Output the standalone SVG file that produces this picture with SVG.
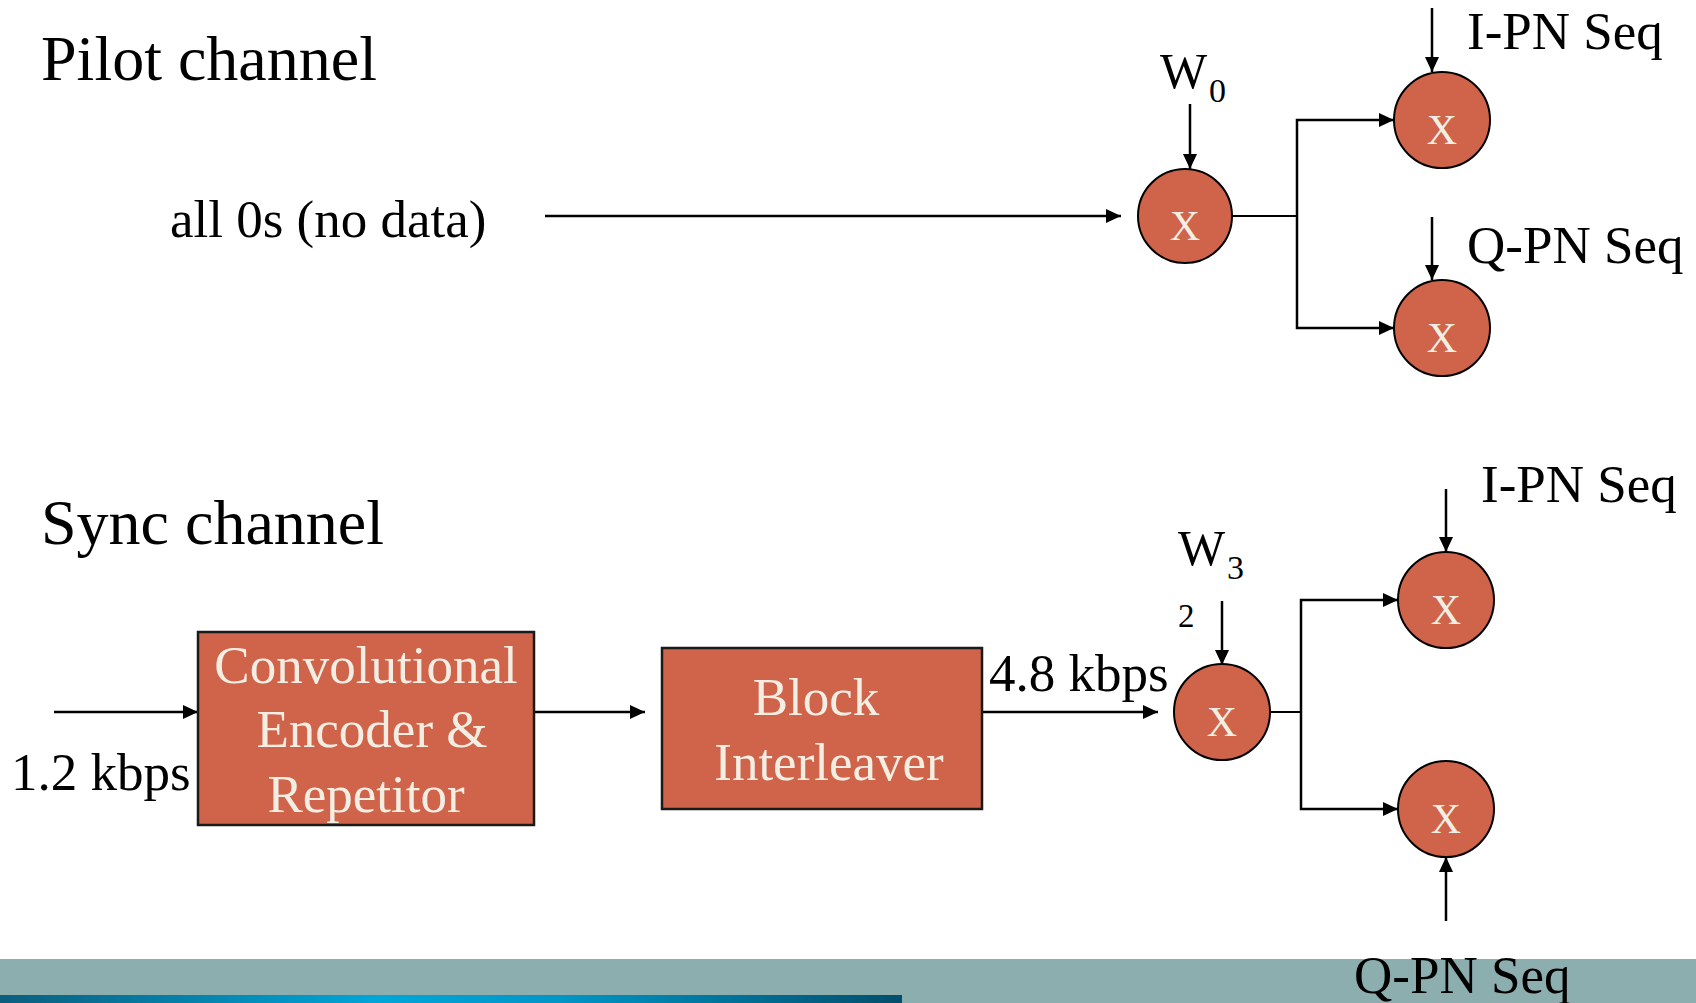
<svg xmlns="http://www.w3.org/2000/svg" width="1696" height="1003" viewBox="0 0 1696 1003">
  <style>
    text { font-family: "Liberation Serif", "Times New Roman", serif; fill: #000; }
    .title { font-size: 64px; }
    .lbl { font-size: 53px; }
    .w { font-size: 50px; }
    .sub { font-size: 34px; }
    .small { font-size: 33px; }
    .inner { font-size: 53px; fill: #F3EEE3; text-anchor: middle; }
    .mx { font-size: 42px; fill: #F3EEE3; text-anchor: middle; }
    .mixer { fill: #D0644A; stroke: #000; stroke-width: 2; }
    .box { fill: #D0644A; stroke: #1a1a1a; stroke-width: 2.5; }
    .arrow { fill: none; stroke: #000; stroke-width: 2.5; marker-end: url(#head); }
    .wire { fill: none; stroke: #000; stroke-width: 2; }
  </style>
  <defs>
    <marker id="head" markerUnits="userSpaceOnUse" markerWidth="15" markerHeight="14" refX="15" refY="7" orient="auto">
      <path d="M0,0 L15,7 L0,14 z" fill="#000"/>
    </marker>
    <linearGradient id="bar" x1="0" y1="0" x2="1" y2="0">
      <stop offset="0" stop-color="#0B5E7E"/>
      <stop offset="0.42" stop-color="#00A6D8"/>
      <stop offset="0.62" stop-color="#0096C6"/>
      <stop offset="1" stop-color="#034E6C"/>
    </linearGradient>
  </defs>

  <rect width="1696" height="1003" fill="#fff"/>

  <!-- footer band -->
  <rect x="0" y="959" width="1696" height="44" fill="#8CAEAE"/>
  <rect x="0" y="995" width="902" height="8" fill="url(#bar)"/>

  <!-- section titles -->
  <text class="title" x="41" y="80">Pilot channel</text>
  <text class="title" x="41" y="544">Sync channel</text>

  <!-- connectors -->
  <g id="connectors">
    <!-- pilot channel -->
    <line class="arrow" x1="545" y1="216" x2="1121" y2="216"/>
    <line class="arrow" x1="1190" y1="104" x2="1190" y2="169"/>
    <polyline class="wire" points="1232,216 1297,216"/>
    <polyline class="arrow" points="1297,216 1297,120 1394,120"/>
    <polyline class="arrow" points="1297,216 1297,328 1394,328"/>
    <line class="arrow" x1="1432" y1="8" x2="1432" y2="72"/>
    <line class="arrow" x1="1432" y1="217" x2="1432" y2="280"/>
    <!-- sync channel -->
    <line class="arrow" x1="54" y1="712" x2="198" y2="712"/>
    <line class="arrow" x1="534" y1="712" x2="645" y2="712"/>
    <line class="arrow" x1="982" y1="712" x2="1158" y2="712"/>
    <line class="arrow" x1="1222" y1="601" x2="1222" y2="665"/>
    <polyline class="wire" points="1270,712 1301,712"/>
    <polyline class="arrow" points="1301,712 1301,600 1398,600"/>
    <polyline class="arrow" points="1301,712 1301,809 1398,809"/>
    <line class="arrow" x1="1446" y1="489" x2="1446" y2="552"/>
    <line class="arrow" x1="1446" y1="921" x2="1446" y2="857"/>
  </g>

  <!-- pilot channel nodes -->
  <g id="pilot-input">
    <text class="lbl" x="170" y="237">all 0s (no data)</text>
  </g>
  <g id="pilot-walsh">
    <text class="w" x="1160" y="88">W</text>
    <text class="sub" x="1209" y="102">0</text>
    <ellipse class="mixer" cx="1185" cy="216" rx="47" ry="47"/>
    <text class="mx" x="1185" y="240">X</text>
  </g>
  <g id="pilot-i-mixer">
    <text class="lbl" x="1467" y="49">I-PN Seq</text>
    <ellipse class="mixer" cx="1442" cy="120" rx="48" ry="48"/>
    <text class="mx" x="1442" y="144">X</text>
  </g>
  <g id="pilot-q-mixer">
    <text class="lbl" x="1467" y="263">Q-PN Seq</text>
    <ellipse class="mixer" cx="1442" cy="328" rx="48" ry="48"/>
    <text class="mx" x="1442" y="352">X</text>
  </g>

  <!-- sync channel nodes -->
  <g id="sync-input">
    <text class="lbl" x="11" y="790">1.2 kbps</text>
  </g>
  <g id="conv-encoder">
    <rect class="box" x="198" y="632" width="336" height="193"/>
    <text class="inner" x="366" y="683">Convolutional</text>
    <text class="inner" x="372" y="747">Encoder &amp;</text>
    <text class="inner" x="366" y="812">Repetitor</text>
  </g>
  <g id="block-interleaver">
    <rect class="box" x="662" y="648" width="320" height="161"/>
    <text class="inner" x="816" y="715">Block</text>
    <text class="inner" x="829" y="780">Interleaver</text>
  </g>
  <g id="sync-rate">
    <text class="lbl" x="989" y="691">4.8 kbps</text>
  </g>
  <g id="sync-walsh">
    <text class="w" x="1178" y="565">W</text>
    <text class="sub" x="1227" y="579">3</text>
    <text class="small" x="1178" y="627">2</text>
    <ellipse class="mixer" cx="1222" cy="712" rx="48" ry="48"/>
    <text class="mx" x="1222" y="736">X</text>
  </g>
  <g id="sync-i-mixer">
    <text class="lbl" x="1481" y="502">I-PN Seq</text>
    <ellipse class="mixer" cx="1446" cy="600" rx="48" ry="48"/>
    <text class="mx" x="1446" y="624">X</text>
  </g>
  <g id="sync-q-mixer">
    <ellipse class="mixer" cx="1446" cy="809" rx="48" ry="48"/>
    <text class="mx" x="1446" y="833">X</text>
    <text class="lbl" x="1354" y="993">Q-PN Seq</text>
  </g>
</svg>
